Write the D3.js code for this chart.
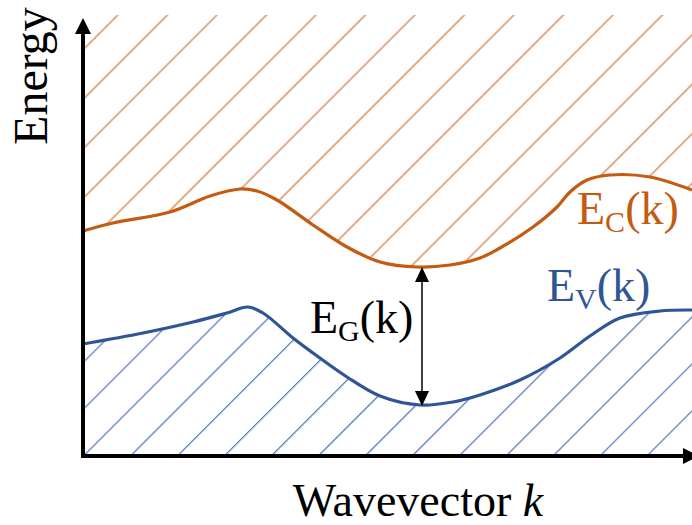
<!DOCTYPE html>
<html>
<head>
<meta charset="utf-8">
<script src="https://cdn.jsdelivr.net/npm/d3@7"></script>
<style>
  body { margin: 0; background: #fff; }
</style>
</head>
<body>
<svg></svg>
<script>
// band edges (arbitrary units: k across, energy up)
const kC = [0, 30, 87, 127, 157, 174, 194, 230, 264, 297, 334, 367, 397, 417, 450, 474, 487, 504, 527, 567, 609];
const eC = [225, 233, 244, 260, 267, 265, 256, 231, 209, 194, 189, 191, 198, 208, 229, 249, 264, 276, 281, 279, 266];
const kV = [0, 60, 110, 144, 165, 180, 210, 230, 264, 297, 337, 370, 397, 437, 477, 507, 537, 577, 609];
const eV = [112, 123, 134, 143, 149, 143, 118, 103, 79, 60, 51, 54, 61, 76, 98, 120, 138, 145, 146];
const gapK = 339; // where the gap arrow sits
const labels = { c: ["E", "C", "(k)"], v: ["E", "V", "(k)"], g: ["E", "G", "(k)"] };

const width = 692;
const height = 525;
const orange = "#c55a11", blue = "#2f5597";
const serif = "'Liberation Serif', 'DejaVu Serif', 'Noto Serif', Tinos, FreeSerif, Times, 'Times New Roman', serif";

const svg = d3.select("svg").attr("width", width).attr("height", height);

const x = d3.scaleLinear().domain([0, 609]).range([83, 692]);
const y = d3.scaleLinear().domain([0, 439]).range([456, 17]);

const cond = kC.map((k, i) => ({ k: k, e: eC[i] }));
const val = kV.map((k, i) => ({ k: k, e: eV[i] }));

// hatch patterns
const defs = svg.append("defs");
function hatch(id, color, s, a) {
    const p = defs.append("pattern")
        .attr("id", id)
        .attr("patternUnits", "userSpaceOnUse")
        .attr("width", s).attr("height", 20)
        .attr("patternTransform", "rotate(45)");
    p.append("line")
        .attr("x1", a).attr("x2", a).attr("y1", 0).attr("y2", 20)
        .attr("stroke", color).attr("stroke-width", 1.1);
}
hatch("hc", "#cc6420", 35, 24);
hatch("hv", "#4168b0", 33.2, 16.3);

const curve = d3.curveCatmullRom.alpha(0.5);

// filled regions
const areaUp = d3.area()
    .x(d => x(d.k))
    .y0(y(441))
    .y1(d => y(d.e))
    .curve(curve);
const areaDown = d3.area()
    .x(d => x(d.k))
    .y0(y(0))
    .y1(d => y(d.e))
    .curve(curve);

svg.append("path").datum(cond).attr("fill", "url(#hc)").attr("d", areaUp);
svg.append("path").datum(val).attr("fill", "url(#hv)").attr("d", areaDown);

const line = d3.line()
    .x(d => x(d.k))
    .y(d => y(d.e))
    .curve(curve);

svg.append("path").datum(cond)
    .attr("fill", "none").attr("stroke", orange).attr("stroke-width", 3.2)
    .attr("d", line);
svg.append("path").datum(val)
    .attr("fill", "none").attr("stroke", blue).attr("stroke-width", 3.2)
    .attr("d", line);

// axes with arrow heads
svg.append("line")
    .attr("x1", x(0)).attr("x2", x(0)).attr("y1", y(0) + 2).attr("y2", 30)
    .attr("stroke", "#000").attr("stroke-width", 4);
svg.append("path")
    .attr("d", `M${x(0)},18 L${x(0) - 8},34 L${x(0) + 8},34 Z`);
svg.append("line")
    .attr("x1", x(0) - 2).attr("x2", 686).attr("y1", y(0)).attr("y2", y(0))
    .attr("stroke", "#000").attr("stroke-width", 4);
svg.append("path")
    .attr("d", `M699,${y(0)} L683,${y(0) - 8} L683,${y(0) + 8} Z`);

// gap arrow
const eTop = 189, eBot = 50;
svg.append("line")
    .attr("x1", x(gapK)).attr("x2", x(gapK))
    .attr("y1", y(eTop) + 12).attr("y2", y(eBot) - 12)
    .attr("stroke", "#000").attr("stroke-width", 1.5);
svg.append("path")
    .attr("d", `M${x(gapK)},${y(eTop)} L${x(gapK) - 7},${y(eTop) + 15} L${x(gapK) + 7},${y(eTop) + 15} Z`);
svg.append("path")
    .attr("d", `M${x(gapK)},${y(eBot)} L${x(gapK) - 7},${y(eBot) - 15} L${x(gapK) + 7},${y(eBot) - 15} Z`);

// labels
function label(parts, px, py, color) {
    const t = svg.append("text").attr("x", px).attr("y", py)
        .attr("font-family", serif)
        .attr("fill", color).attr("font-size", 46);
    t.append("tspan").text(parts[0]);
    t.append("tspan").attr("font-size", 30).attr("dy", 8).text(parts[1]);
    t.append("tspan").attr("dy", -8).text(parts[2]);
}
label(labels.c, 577, 224, orange);
label(labels.v, 547, 301, blue);
label(labels.g, 310, 333, "#000");

svg.append("text")
    .attr("transform", "translate(47,76) rotate(-90)")
    .attr("text-anchor", "middle")
    .attr("font-family", serif)
    .attr("font-size", 48)
    .text("Energy");

const xl = svg.append("text")
    .attr("x", 418).attr("y", 516)
    .attr("text-anchor", "middle")
    .attr("font-family", serif)
    .attr("font-size", 46);
xl.append("tspan").text("Wavevector ");
xl.append("tspan").attr("font-style", "italic").text("k");
</script>
</body>
</html>
